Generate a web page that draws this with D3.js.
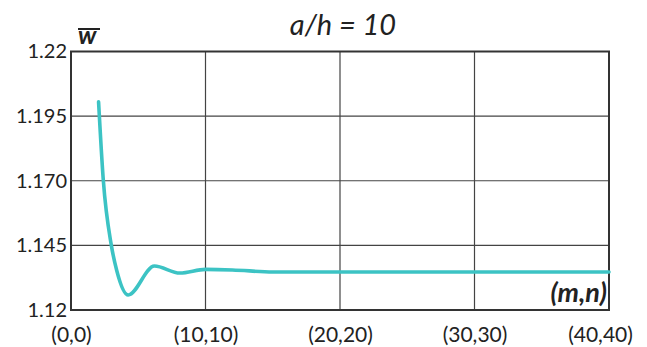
<!DOCTYPE html>
<html>
<head>
<meta charset="utf-8">
<script src="https://cdn.jsdelivr.net/npm/d3@7"></script>
<style>
  body { margin: 0; background: #fff; }
  text { font-family: Lato, "Open Sans", sans-serif; fill: #222; }
</style>
</head>
<body>
<div id="chart"></div>
<script>
// values
const mVals = [2.05, 2.4, 3.0, 3.4, 4.25, 6.2, 8.1, 10, 12, 15, 20, 25, 30, 35, 40];
const wVals = [1.2005, 1.1703, 1.145, 1.1353, 1.1258, 1.137, 1.1343, 1.1357, 1.1355, 1.1347, 1.1347, 1.1347, 1.1347, 1.1347, 1.1347];
const yTicks = [1.12, 1.145, 1.170, 1.195, 1.22];
const yTickLabels = ["1.12", "1.145", "1.170", "1.195", "1.22"];
const xTicks = [0, 10, 20, 30, 40];
const xTickLabels = ["(0,0)", "(10,10)", "(20,20)", "(30,30)", "(40,40)"];

const width = 647, height = 347;
const margin = {top: 51.5, right: 38, bottom: 37, left: 71};

const svg = d3.select("#chart").append("svg")
  .attr("width", width)
  .attr("height", height);

const x = d3.scaleLinear().domain([0, 40]).range([margin.left, width - margin.right]);
const y = d3.scaleLinear().domain([1.12, 1.22]).range([height - margin.bottom, margin.top]);

// grid
svg.append("g")
  .selectAll("line")
  .data(xTicks.slice(1, -1))
  .enter().append("line")
  .attr("x1", d => x(d)).attr("x2", d => x(d))
  .attr("y1", y(1.22)).attr("y2", y(1.12))
  .attr("stroke", "#444").attr("stroke-width", 1.2);

svg.append("g")
  .selectAll("line")
  .data(yTicks.slice(1, -1))
  .enter().append("line")
  .attr("x1", x(0)).attr("x2", x(40))
  .attr("y1", d => y(d)).attr("y2", d => y(d))
  .attr("stroke", "#444").attr("stroke-width", 1.2);

// frame
svg.append("rect")
  .attr("x", x(0)).attr("y", y(1.22))
  .attr("width", x(40) - x(0)).attr("height", y(1.12) - y(1.22))
  .attr("fill", "none").attr("stroke", "#333").attr("stroke-width", 2);

// axes (labels only)
const yAxis = svg.append("g")
  .attr("transform", `translate(${x(0)},0)`)
  .call(d3.axisLeft(y).tickValues(yTicks).tickFormat((d, i) => yTickLabels[i]).tickSize(0).tickPadding(4));
yAxis.select(".domain").remove();
yAxis.selectAll("text").style("font-size", "20px").attr("fill", "#222");

const xAxis = svg.append("g")
  .attr("transform", `translate(0,${y(1.12)})`)
  .call(d3.axisBottom(x).tickValues(xTicks).tickFormat((d, i) => xTickLabels[i]).tickSize(0).tickPadding(17));
xAxis.select(".domain").remove();
xAxis.selectAll("text").style("font-size", "21px").attr("fill", "#222");
// the last label sits a little left of its gridline in the original
xAxis.selectAll("text").filter(d => d === 40).attr("dx", -9);

// curve
const data = mVals.map((m, i) => ({m: m, w: wVals[i]}));
svg.append("path")
  .datum(data)
  .attr("fill", "none")
  .attr("stroke", "#3cc3c4")
  .attr("stroke-width", 3.6)
  .attr("stroke-linejoin", "round")
  .attr("stroke-linecap", "round")
  .attr("d", d3.line().x(d => x(d.m)).y(d => y(d.w)).curve(d3.curveMonotoneX));

// title
svg.append("text")
  .attr("x", 343).attr("y", 35)
  .attr("text-anchor", "middle")
  .style("font-size", "29px").style("font-style", "italic")
  .text("a/h = 10");

// y label: w with overbar
svg.append("text")
  .attr("x", 78).attr("y", 44)
  .style("font-size", "25px").style("font-style", "italic").style("font-weight", "bold")
  .text("w");
svg.append("line")
  .attr("x1", 78).attr("x2", 100).attr("y1", 29).attr("y2", 29)
  .attr("stroke", "#222").attr("stroke-width", 2);

// x label
svg.append("text")
  .attr("x", 607).attr("y", 302)
  .attr("text-anchor", "end")
  .style("font-size", "27px").style("font-style", "italic").style("font-weight", "bold")
  .text("(m,n)");
</script>
</body>
</html>
